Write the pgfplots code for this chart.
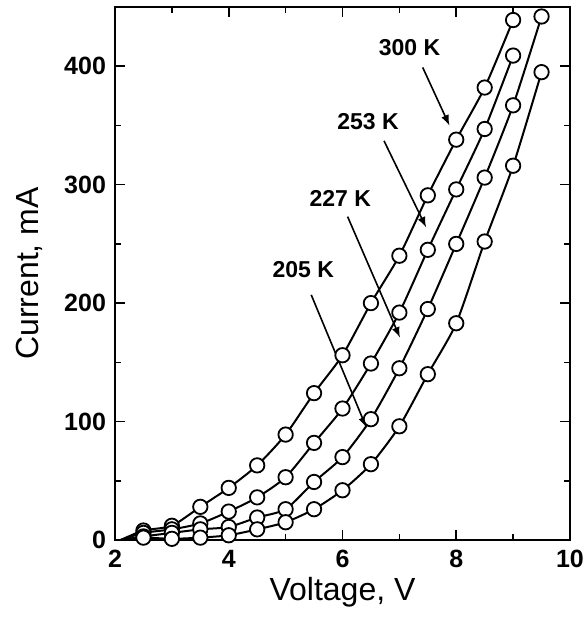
\documentclass[border=0pt]{standalone}
\usepackage{pgfplots}
\pgfplotsset{compat=1.18}
\usepackage{fontspec}
\setmainfont{Liberation Sans}
\begin{document}
\begin{tikzpicture}
\begin{axis}[
  scale only axis, width=227.5pt, height=266.5pt,
  xmin=2, xmax=10, ymin=0, ymax=450,
  xtick={2,4,6,8,10}, minor xtick={3,5,7,9},
  ytick={0,100,200,300,400}, minor ytick={50,150,250,350},
  tick align=inside, major tick length=5pt, minor tick length=3pt,
  every tick/.style={line width=0.8pt, black},
  axis line style={line width=0.9pt},
  /pgf/number format/assume math mode=true,
  ticklabel style={font=\fontsize{12.5}{14}\selectfont\bfseries},
  xticklabel style={yshift=-1.5pt},
  yticklabel style={xshift=-1pt},
  xlabel={Voltage, V}, ylabel={Current, mA},
  label style={font=\fontsize{16}{19}\selectfont},
  xlabel style={at={([yshift=-26pt]axis description cs:0.5,0)}, anchor=center},
  ylabel style={at={([xshift=-43pt]axis description cs:0,0.5)}, anchor=center},
  ser/.style={black, line width=1pt, smooth, tension=0.4,
    mark=*, mark size=3.6pt, mark indices={2,...,16},
    mark options={solid, draw=black, fill=white, line width=0.9pt}},
]
% 300 K
\addplot[ser] coordinates {(2.1,0) (2.5,8) (3,12) (3.5,28) (4,44) (4.5,63) (5,89) (5.5,124) (6,156) (6.5,200) (7,240) (7.5,291) (8,338) (8.5,382) (9,439)};
% 253 K
\addplot[ser] coordinates {(2.1,0) (2.5,6) (3,9) (3.5,14) (4,24) (4.5,36) (5,53) (5.5,82) (6,111) (6.5,149) (7,192) (7.5,245) (8,296) (8.5,347) (9,409)};
% 227 K
\addplot[ser] coordinates {(2.1,0) (2.5,3) (3,6) (3.5,9) (4,11) (4.5,19) (5,26) (5.5,49) (6,70) (6.5,102) (7,145) (7.5,195) (8,250) (8.5,306) (9,367) (9.5,442)};
% 205 K
\addplot[ser] coordinates {(2.1,0) (2.5,2) (3,1) (3.5,2) (4,4) (4.5,9) (5,15) (5.5,26) (6,42) (6.5,64) (7,96) (7.5,140) (8,183) (8.5,252) (9,316) (9.5,395)};
\begin{scope}[font=\fontsize{11.5}{13}\selectfont\bfseries]
\node at (axis cs:7.18,416) {300 K};
\node at (axis cs:6.45,353) {253 K};
\node at (axis cs:5.96,288) {227 K};
\node at (axis cs:5.31,228) {205 K};
\end{scope}
\begin{scope}[-latex, line width=0.8pt]
\draw (axis cs:7.41,399) -- (axis cs:7.88,350);
\draw (axis cs:6.73,337) -- (axis cs:7.47,264);
\draw (axis cs:6.09,273) -- (axis cs:7.01,171);
\draw (axis cs:5.45,207) -- (axis cs:6.42,95);
\end{scope}
\end{axis}
\pgfresetboundingbox
\path[use as bounding box] (current axis.south west) ++(-57.5pt,-40pt) rectangle ++(293pt,310pt);
\end{tikzpicture}
\end{document}
